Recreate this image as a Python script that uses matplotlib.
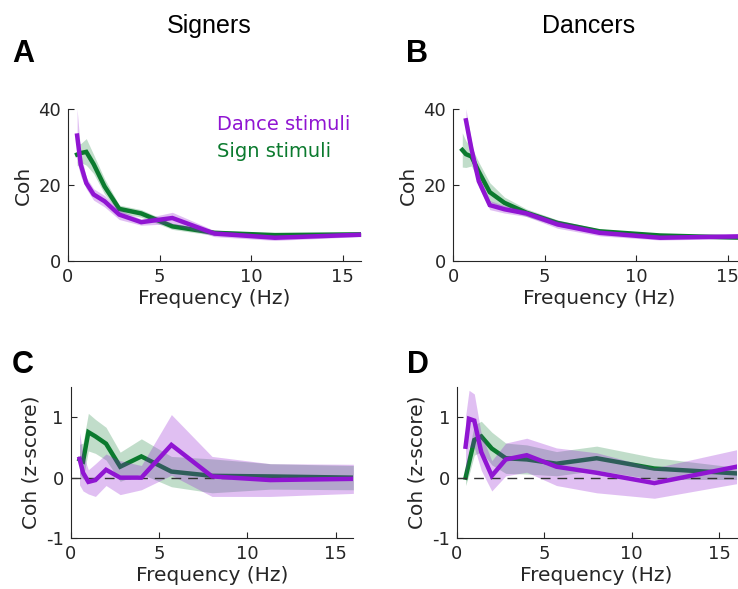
import numpy as np
import matplotlib
matplotlib.use("Agg")
import matplotlib.pyplot as plt

plt.rcParams['font.family'] = 'DejaVu Sans'
plt.rcParams['axes.unicode_minus'] = False

PURPLE = '#9015D2'
GREEN = '#0B7A2E'
TEXT = '#262626'

# frequencies (Hz), half-octave steps
freqs = [0.5, 0.7, 1.0, 1.4, 2.0, 2.8, 4.0, 5.7, 8.0, 11.3, 16.0]

# A: signers, raw coherence
signers_dance = [33, 25.3, 20.5, 17.5, 15.7, 12.2, 10.2, 11.3, 7.2, 6.1, 6.9]
signers_dance_sem = [7, 3, 1.5, 1.5, 1.5, 1.3, 0.8, 1.5, 0.8, 0.7, 0.5]
signers_sign = [28, 28.4, 28.7, 25.5, 19.6, 13.7, 12.5, 9.1, 7.4, 6.8, 7.0]
signers_sign_sem = [3, 2.5, 3.5, 2.5, 2, 1, 1, 0.8, 0.7, 0.5, 0.5]

# B: dancers, raw coherence
dancers_dance = [np.nan, 37, 29.5, 21, 14.7, 13.6, 12.5, 9.6, 7.4, 6.1, 6.5]
dancers_dance_sem = [np.nan, 3, 2, 1.5, 1.2, 1, 0.8, 1, 0.8, 0.6, 0.6]
dancers_sign = [29.2, 28.1, 27.5, 23.5, 18.1, 15.3, 12.7, 10, 7.8, 6.7, 6.1]
dancers_sign_sem = [4.5, 3.5, 2.5, 2.5, 2.5, 1.5, 1, 0.8, 0.6, 0.5, 0.5]

# C: signers, z-scored coherence
signers_dance_z = [0.31, 0.08, -0.07, -0.04, 0.13, 0.0, 0.0, 0.54, 0.02, -0.04, -0.02]
signers_dance_z_sem = [0.43, 0.3, 0.2, 0.27, 0.26, 0.28, 0.2, 0.5, 0.33, 0.27, 0.24]
signers_sign_z = [0.3, 0.27, 0.75, 0.68, 0.56, 0.18, 0.35, 0.1, 0.03, 0.02, 0.0]
signers_sign_z_sem = [0.25, 0.3, 0.31, 0.28, 0.27, 0.24, 0.29, 0.25, 0.28, 0.21, 0.2]

# D: dancers, z-scored coherence
dancers_dance_z = [0.51, 0.97, 0.94, 0.42, 0.03, 0.3, 0.37, 0.18, 0.08, -0.09, 0.18]
dancers_dance_z_sem = [0.5, 0.47, 0.44, 0.3, 0.25, 0.27, 0.28, 0.31, 0.33, 0.25, 0.28]
dancers_sign_z = [0.0, 0.25, 0.62, 0.68, 0.48, 0.32, 0.3, 0.23, 0.32, 0.15, 0.07]
dancers_sign_z_sem = [0.13, 0.2, 0.25, 0.25, 0.27, 0.25, 0.24, 0.2, 0.2, 0.18, 0.1]


def style_axis(ax, ylim, yticks, ylabel):
    ax.set_xlim(0, 16)
    ax.set_ylim(*ylim)
    ax.set_xticks([0, 5, 10, 15])
    ax.set_yticks(yticks)
    for side in ['top', 'right']:
        ax.spines[side].set_visible(False)
    for side in ['left', 'bottom']:
        ax.spines[side].set_color(TEXT)
        ax.spines[side].set_linewidth(0.8)
    ax.tick_params(direction='in', length=4, width=0.8, colors=TEXT,
                   labelsize=13, pad=5)
    ax.set_xlabel('Frequency (Hz)', fontsize=14.5, color=TEXT, labelpad=2)
    ax.set_ylabel(ylabel, fontsize=14.5, color=TEXT, labelpad=4)


def plot_pair(ax, dance, dance_sem, sign, sign_sem):
    x = np.array(freqs)
    d, ds = np.array(dance, float), np.array(dance_sem, float)
    s, ss = np.array(sign, float), np.array(sign_sem, float)
    ax.fill_between(x, s - ss, s + ss, color=GREEN, alpha=0.25, lw=0, zorder=1)
    ax.plot(x, s, color=GREEN, lw=3.2, solid_joinstyle='miter', zorder=2)
    ax.fill_between(x, d - ds, d + ds, color=PURPLE, alpha=0.27, lw=0, zorder=2.1)
    ax.plot(x, d, color=PURPLE, lw=3.2, solid_joinstyle='miter', zorder=3)


fig = plt.figure(figsize=(7.38, 5.89), dpi=100)

ax_a = fig.add_axes([0.0921, 0.557, 0.397, 0.258])
ax_b = fig.add_axes([0.614, 0.557, 0.397, 0.258])
ax_c = fig.add_axes([0.0958, 0.0861, 0.383, 0.2574])
ax_d = fig.add_axes([0.619, 0.0861, 0.379, 0.2574])

plot_pair(ax_a, signers_dance, signers_dance_sem, signers_sign, signers_sign_sem)
plot_pair(ax_b, dancers_dance, dancers_dance_sem, dancers_sign, dancers_sign_sem)
plot_pair(ax_c, signers_dance_z, signers_dance_z_sem, signers_sign_z, signers_sign_z_sem)
plot_pair(ax_d, dancers_dance_z, dancers_dance_z_sem, dancers_sign_z, dancers_sign_z_sem)
for ax in [ax_c, ax_d]:
    ax.axhline(0, color='#333333', lw=1, ls=(0, (7, 5)), zorder=2.5)

style_axis(ax_a, (0, 40), [0, 20, 40], 'Coh')
style_axis(ax_b, (0, 40), [0, 20, 40], 'Coh')
style_axis(ax_c, (-1, 1.5), [-1, 0, 1], 'Coh (z-score)')
style_axis(ax_d, (-1, 1.5), [-1, 0, 1], 'Coh (z-score)')

ax_a.text(0.51, 0.90, 'Dance stimuli', color=PURPLE, fontsize=14,
          transform=ax_a.transAxes, va='center')
ax_a.text(0.51, 0.72, 'Sign stimuli', color=GREEN, fontsize=14,
          transform=ax_a.transAxes, va='center')

W, H = 738, 589
fig.text(209 / W, 1 - 33 / H, 'Signers', fontsize=18, family='Liberation Sans',
         ha='center', va='baseline')
fig.text(589 / W, 1 - 33 / H, 'Dancers', fontsize=18, family='Liberation Sans',
         ha='center', va='baseline')
for label, x, y in [('A', 12, 62), ('B', 406, 62), ('C', 12, 373), ('D', 407, 373)]:
    fig.text(x / W, 1 - y / H, label, fontsize=22, fontweight='bold',
             family='Liberation Sans', ha='left', va='baseline')

fig.savefig('out.png', dpi=100)
